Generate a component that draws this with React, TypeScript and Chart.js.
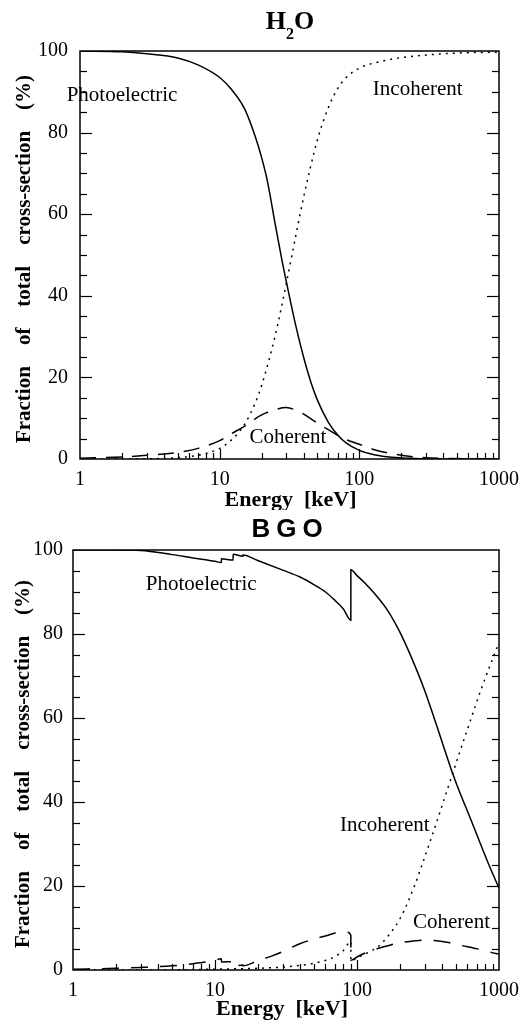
import React, { useEffect, useRef } from 'react';
import { Chart, registerables } from 'chart.js';

Chart.register(...registerables);

// ---------- Axis ticks ----------
const xTickValues = [1, 10, 100, 1000];
const yTickValues = [0, 20, 40, 60, 80, 100];

// ---------- H2O ----------
const h2oPhotoE = [1, 2, 3, 5, 7, 10, 12, 15, 18, 20, 22, 25, 28, 30, 35, 40, 45, 50, 60, 70, 80, 100, 130, 170, 250, 400, 1000];
const h2oPhotoV = [100, 99.8, 99.3, 98.3, 96.6, 93.5, 90.8, 86.0, 79.0, 73.8, 68.0, 57.5, 48.5, 43.5, 32.8, 24.8, 18.8, 14.5, 9.0, 5.9, 4.0, 2.1, 1.0, 0.45, 0.15, 0.03, 0];

const h2oIncoE = [1, 3, 5, 7, 8, 10, 12, 15, 18, 20, 25, 30, 35, 40, 50, 60, 70, 80, 100, 150, 200, 300, 500, 1000];
const h2oIncoV = [0, 0.05, 0.3, 0.9, 1.35, 2.6, 4.5, 8.4, 13.8, 18.1, 30.3, 43, 54.6, 64.3, 78.1, 86.1, 90.8, 93.4, 95.8, 97.6, 98.4, 99.0, 99.5, 99.7];

const h2oCohE = [1, 2, 3, 5, 7, 10, 12, 15, 17, 20, 25, 30, 35, 40, 50, 60, 70, 80, 100, 130, 170, 250, 400, 1000];
const h2oCohV = [0.2, 0.5, 0.9, 1.6, 2.6, 4.5, 6.1, 8, 9.3, 10.8, 12.1, 12.6, 12.0, 11.0, 8.8, 7.2, 5.8, 4.8, 3.6, 2.2, 1.3, 0.5, 0.15, 0.05];

// ---------- BGO ----------
const bgoPhotoE = [1, 2, 3, 5, 7, 10, 11.09, 11.1, 13.4, 13.42, 15.7, 15.72, 20, 30, 40, 50, 60, 70, 80, 90.5, 90.53, 100, 114, 130, 165, 200, 239, 300, 400, 469, 533, 600, 735, 850, 1000];
const bgoPhotoV = [100, 100, 99.9, 98.9, 98.1, 97.3, 97.0, 97.9, 97.6, 99.0, 98.5, 98.8, 97.5, 95.2, 93.5, 91.7, 90, 88, 86, 83.3, 95.3, 93.9, 92.1, 90.0, 85.5, 80.5, 74.8, 66.5, 54.0, 47.0, 42.0, 37.8, 30.3, 25.0, 19.5];

const bgoIncoE = [1, 5, 10, 20, 30, 40, 50, 60, 70, 80, 90.5, 90.53, 100, 114, 125, 140, 172, 203, 254, 280, 350, 453, 595, 761, 1000];
const bgoIncoV = [0, 0.05, 0.2, 0.4, 0.7, 1.1, 1.6, 2.3, 3.2, 4.6, 6.8, 2.2, 2.9, 3.8, 4.5, 5.5, 8.8, 12.5, 20, 24, 33.5, 45, 57, 67.5, 78];

const bgoCohE = [1, 2, 3, 5, 7, 10, 11.09, 11.1, 13.4, 13.42, 15.7, 15.72, 20, 25, 30, 40, 50, 60, 70, 80, 86, 90.5, 90.53, 100, 110, 140, 170, 200, 250, 300, 350, 430, 550, 670, 800, 930, 1000];
const bgoCohV = [0.2, 0.4, 0.6, 1.0, 1.5, 2.3, 2.7, 1.9, 2.0, 0.9, 1.2, 1.0, 2.2, 3.3, 4.4, 6.3, 7.4, 8.1, 8.8, 9.1, 9.0, 8.2, 2.3, 3.1, 3.8, 5.1, 5.9, 6.5, 6.9, 7.1, 7.0, 6.6, 5.8, 5.2, 4.6, 4.0, 3.8];

// ---------- Labels ----------
const seriesNames = ['Photoelectric', 'Incoherent', 'Coherent'];
const xTitle = 'Energy  [keV]';
const yTitle = 'Fraction    of    total    cross-section    (%)';

const SERIF = '"Liberation Serif", "Times New Roman", serif';
const SANS = '"Liberation Sans", Arial, sans-serif';

type Pt = { x: number; y: number };
const zip = (e: number[], v: number[]): Pt[] => e.map((x, i) => ({ x, y: v[i] }));

type Panel = {
  height: number;
  plot: { left: number; right: number; top: number; bottom: number };
  photo: Pt[];
  inco: Pt[];
  coh: Pt[];
  labels: { text: string; e: number; v: number }[];
  title: 'h2o' | 'bgo';
  titleX: number;
  titleBase: number;
  xTitleDy: number;
  xTitleDx: number;
  yTitleX: number;
  yLabelPad: number;
  cohDash: number[];
};

function makeDecor(p: Panel) {
  return {
    id: 'decor',
    afterDraw(chart: any) {
      const { ctx, chartArea: a, scales } = chart;
      const x = scales.x;
      const y = scales.y;
      ctx.save();
      ctx.strokeStyle = '#000';
      ctx.lineWidth = 1.5;
      ctx.setLineDash([]);
      ctx.strokeRect(a.left, a.top, a.right - a.left, a.bottom - a.top);
      ctx.lineWidth = 1.2;
      const seg = (x1: number, y1: number, x2: number, y2: number) => {
        ctx.beginPath();
        ctx.moveTo(x1, y1);
        ctx.lineTo(x2, y2);
        ctx.stroke();
      };
      // y ticks (inward, left and right)
      for (let v = 5; v < 100; v += 5) {
        const py = Math.round(y.getPixelForValue(v)) + 0.5;
        const len = v % 20 === 0 ? 12 : 7;
        seg(a.left, py, a.left + len, py);
        seg(a.right, py, a.right - len, py);
      }
      // x ticks (inward, bottom)
      for (const d of [1, 10, 100]) {
        for (let m = 1; m <= 9; m++) {
          const v = d * m;
          if (v === 1) continue;
          const px = Math.round(x.getPixelForValue(v)) + 0.5;
          const len = m === 1 ? 10 : 6;
          seg(px, a.bottom, px, a.bottom - len);
        }
      }
      // curve labels
      ctx.fillStyle = '#000';
      ctx.font = `21px ${SERIF}`;
      ctx.textAlign = 'center';
      ctx.textBaseline = 'middle';
      for (const l of p.labels) {
        ctx.fillText(l.text, x.getPixelForValue(l.e), y.getPixelForValue(l.v));
      }
      // x title
      ctx.font = `bold 22px ${SERIF}`;
      ctx.fillText(xTitle, (a.left + a.right) / 2 + p.xTitleDx, a.bottom + p.xTitleDy);
      // y title
      ctx.save();
      ctx.translate(p.yTitleX, (a.top + a.bottom) / 2 + 4);
      ctx.rotate(-Math.PI / 2);
      ctx.font = `bold 21px ${SERIF}`;
      ctx.fillText(yTitle, 0, 0);
      ctx.restore();
      // chart title
      ctx.textAlign = 'left';
      ctx.textBaseline = 'alphabetic';
      if (p.title === 'h2o') {
        const big = `bold 26px ${SERIF}`;
        const small = `bold 16px ${SERIF}`;
        ctx.font = big;
        const wH = ctx.measureText('H').width;
        const wO = ctx.measureText('O').width;
        ctx.font = small;
        const w2 = ctx.measureText('2').width;
        const total = wH + w2 + wO;
        let cx = p.titleX - total / 2;
        ctx.font = big;
        ctx.fillText('H', cx, p.titleBase);
        cx += wH;
        ctx.font = small;
        ctx.fillText('2', cx, p.titleBase + 10);
        cx += w2;
        ctx.font = big;
        ctx.fillText('O', cx, p.titleBase);
      } else {
        ctx.font = `bold 26px ${SANS}`;
        (ctx as any).letterSpacing = '6px';
        const w = ctx.measureText('BGO').width;
        ctx.fillText('BGO', p.titleX - w / 2 + 3, p.titleBase);
        (ctx as any).letterSpacing = '0px';
      }
      ctx.restore();
    },
  };
}

function makeConfig(p: Panel): any {
  const base = {
    borderColor: '#000',
    borderWidth: 1.5,
    pointRadius: 0,
    fill: false,
    cubicInterpolationMode: 'monotone',
  };
  return {
    type: 'line',
    data: {
      datasets: [
        { ...base, label: seriesNames[0], data: p.photo },
        { ...base, label: seriesNames[1], data: p.inco, borderDash: [2, 5] },
        { ...base, label: seriesNames[2], data: p.coh, borderDash: p.cohDash },
      ],
    },
    options: {
      animation: false,
      responsive: false,
      maintainAspectRatio: false,
      layout: { padding: { top: p.plot.top, right: 528 - p.plot.right, left: 0, bottom: 0 } },
      plugins: { legend: { display: false }, tooltip: { enabled: false }, title: { display: false } },
      scales: {
        x: {
          type: 'logarithmic',
          min: 1,
          max: 1000,
          grid: { display: false, drawTicks: false },
          border: { display: false },
          ticks: {
            color: '#000',
            font: { family: SERIF, size: 20 },
            padding: 9,
            autoSkip: false,
            maxRotation: 0,
            callback: (v: any) => String(v),
          },
          afterBuildTicks: (s: any) => {
            s.ticks = xTickValues.map((v) => ({ value: v }));
          },
          afterFit: (s: any) => {
            s.height = p.height - p.plot.bottom;
          },
        },
        y: {
          type: 'linear',
          min: 0,
          max: 100,
          grid: { display: false, drawTicks: false },
          border: { display: false },
          ticks: {
            color: '#000',
            font: { family: SERIF, size: 20 },
            padding: p.yLabelPad,
            callback: (v: any) => String(v),
          },
          afterBuildTicks: (s: any) => {
            s.ticks = yTickValues.map((v) => ({ value: v }));
          },
          afterFit: (s: any) => {
            s.width = p.plot.left;
          },
        },
      },
    },
    plugins: [makeDecor(p)],
  };
}

const panels: Panel[] = [
  {
    height: 510,
    plot: { left: 80, right: 499, top: 51, bottom: 459 },
    photo: zip(h2oPhotoE, h2oPhotoV),
    inco: zip(h2oIncoE, h2oIncoV),
    coh: zip(h2oCohE, h2oCohV),
    labels: [
      { text: seriesNames[0], e: 2.0, v: 89 },
      { text: seriesNames[1], e: 262, v: 90.5 },
      { text: seriesNames[2], e: 30.8, v: 5.2 },
    ],
    title: 'h2o',
    titleX: 290,
    titleBase: 29,
    xTitleDy: 41,
    xTitleDx: 1,
    yTitleX: 25,
    yLabelPad: 12,
    cohDash: [16, 10],
  },
  {
    height: 514,
    plot: { left: 73, right: 502, top: 40, bottom: 460 },
    photo: zip(bgoPhotoE, bgoPhotoV),
    inco: zip(bgoIncoE, bgoIncoV),
    coh: zip(bgoCohE, bgoCohV),
    labels: [
      { text: seriesNames[0], e: 8.0, v: 91.7 },
      { text: seriesNames[1], e: 157, v: 34.3 },
      { text: seriesNames[2], e: 463, v: 11.4 },
    ],
    title: 'bgo',
    titleX: 287,
    titleBase: 27,
    xTitleDy: 39,
    xTitleDx: -4,
    yTitleX: 24,
    yLabelPad: 10,
    cohDash: [17, 12],
  },
];

function ChartPanel({ panel, top }: { panel: Panel; top: number }) {
  const ref = useRef<HTMLCanvasElement | null>(null);
  useEffect(() => {
    if (!ref.current) return;
    const chart = new Chart(ref.current, makeConfig(panel));
    return () => chart.destroy();
  }, [panel]);
  return (
    <canvas
      ref={ref}
      width={528}
      height={panel.height}
      style={{ position: 'absolute', left: 0, top, width: 528, height: panel.height, display: 'block' }}
    />
  );
}

export default function App() {
  return (
    <div style={{ position: 'absolute', left: 0, top: 0, width: 528, height: 1024, background: '#fff' }}>
      <ChartPanel panel={panels[0]} top={0} />
      <ChartPanel panel={panels[1]} top={510} />
    </div>
  );
}
